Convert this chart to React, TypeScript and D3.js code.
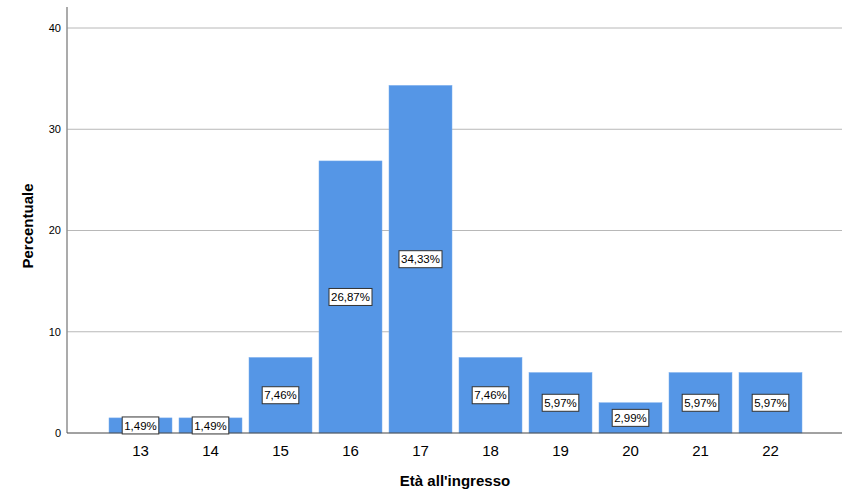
import React from "react";
import * as d3 from "d3";

const categories = ["13", "14", "15", "16", "17", "18", "19", "20", "21", "22"];
const percentages = [1.49, 1.49, 7.46, 26.87, 34.33, 7.46, 5.97, 2.99, 5.97, 5.97];
const yTicks = [0, 10, 20, 30, 40];
const xTitle = "Età all'ingresso";
const yTitle = "Percentuale";

const W = 854;
const H = 504;
const plotLeft = 67;
const plotRight = 842;
const plotTop = 7;
const plotBottom = 433;

const fmt = (v: number) => v.toFixed(2).replace(".", ",") + "%";
const textWidth = (s: string, size: number) =>
  s.split("").reduce((acc, ch) => acc + (ch === "," ? 0.278 : ch === "%" ? 0.889 : 0.556) * size, 0);

export default function App() {
  const x = d3.scaleBand<string>().domain(categories).range([105.5, 805.5]).paddingInner(0.1).paddingOuter(0.05);
  const y = d3.scaleLinear().domain([0, 40]).range([plotBottom, 28]);
  const font = "'Liberation Sans', Arial, sans-serif";
  const labelSize = 11.5;

  return (
    <svg width={W} height={H} style={{ position: "absolute", left: 0, top: 0, background: "#fff" }} fontFamily={font}>
      {yTicks.filter((t) => t > 0).map((t) => (
        <line key={"g" + t} x1={plotLeft} x2={plotRight} y1={y(t)} y2={y(t)} stroke="#b8b8b8" strokeWidth={1} />
      ))}
      {yTicks.map((t) => (
        <text key={"t" + t} x={61} y={y(t)} dy="0.35em" textAnchor="end" fontSize={11} fill="#000">
          {t}
        </text>
      ))}
      {categories.map((c, i) => {
        const v = percentages[i];
        const bx = x(c)!;
        const bw = x.bandwidth();
        return (
          <g key={c}>
            <rect x={bx} y={y(v)} width={bw} height={plotBottom - y(v)} fill="#5596e6" stroke="#7aaeee" strokeWidth={0.5} />
          </g>
        );
      })}
      <line x1={plotLeft} x2={plotLeft} y1={plotTop} y2={plotBottom} stroke="#8f8f8f" strokeWidth={1.5} />
      <line x1={plotLeft} x2={plotRight} y1={plotBottom} y2={plotBottom} stroke="#444" strokeWidth={1} />
      {categories.map((c, i) => {
        const v = percentages[i];
        const label = fmt(v);
        const cx = x(c)! + x.bandwidth() / 2;
        const cy = y(v / 2);
        const bw = textWidth(label, labelSize) + 4;
        const bh = 17;
        return (
          <g key={"l" + c}>
            <rect x={cx - bw / 2} y={cy - bh / 2} width={bw} height={bh} fill="#fff" stroke="#333" strokeWidth={1} />
            <text x={cx} y={cy} dy="0.36em" textAnchor="middle" fontSize={labelSize} fill="#000">
              {label}
            </text>
          </g>
        );
      })}
      {categories.map((c) => (
        <text key={"x" + c} x={x(c)! + x.bandwidth() / 2} y={451} dy="0.35em" textAnchor="middle" fontSize={15} fill="#000">
          {c}
        </text>
      ))}
      <text x={455} y={481} dy="0.35em" textAnchor="middle" fontSize={15} fontWeight="bold" fill="#000">
        {xTitle}
      </text>
      <text transform={`translate(28,226) rotate(-90)`} dy="0.35em" textAnchor="middle" fontSize={15} fontWeight="bold" fill="#000">
        {yTitle}
      </text>
    </svg>
  );
}
